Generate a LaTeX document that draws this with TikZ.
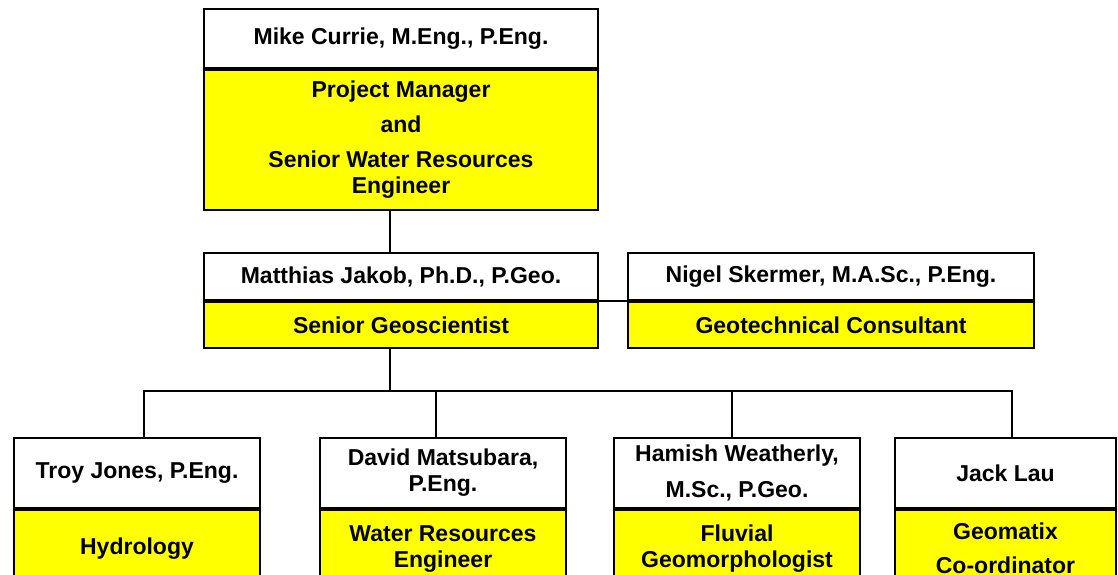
\documentclass[tikz,border=0pt]{standalone}
\usepackage{fontspec}
\setmainfont{Liberation Sans}
\usetikzlibrary{calc}
\definecolor{roleyellow}{RGB}{255,255,0}
\begin{document}
\begin{tikzpicture}[x=1pt,y=-1pt,
  namebox/.style={draw=black, line width=2pt, fill=white, align=center, inner sep=0pt,
    anchor=north west, font=\bfseries\fontsize{23}{26}\selectfont},
  rolebox/.style={namebox, fill=roleyellow},
  link/.style={line width=1.4pt, draw=black}]
\useasboundingbox (0,0) rectangle (1118,574);
\clip (0,0) rectangle (1118,574);
\fill[white] (0,0) rectangle (1118,574);
% top
\node[namebox, minimum width=394pt, minimum height=59pt] (pmN) at (203,8) {Mike Currie, M.Eng., P.Eng.};
\node[rolebox, minimum width=394pt, minimum height=140pt] (pmR) at (pmN.south west)
  {Project Manager\\[9pt]and\\[9pt]Senior Water Resources\\Engineer};
% middle
\node[namebox, minimum width=394pt, minimum height=47pt] (gsN) at (203,252) {Matthias Jakob, Ph.D., P.Geo.};
\node[rolebox, minimum width=394pt, minimum height=46pt] (gsR) at (gsN.south west) {Senior Geoscientist};
\node[namebox, minimum width=406pt, minimum height=47pt] (gcN) at (627,252) {Nigel Skermer, M.A.Sc., P.Eng.};
\node[rolebox, minimum width=406pt, minimum height=46pt] (gcR) at (gcN.south west) {Geotechnical Consultant};
% bottom
\node[namebox, minimum width=246pt, minimum height=70pt] (hyN) at (13,437) {Troy Jones, P.Eng.};
\node[rolebox, minimum width=246pt, minimum height=78pt] (hyR) at (hyN.south west) {Hydrology};
\node[namebox, minimum width=246pt, minimum height=70pt] (wrN) at (319,437) {David Matsubara,\\P.Eng.};
\node[rolebox, minimum width=246pt, minimum height=78pt] (wrR) at (wrN.south west) {Water Resources\\Engineer};
\node[namebox, minimum width=246pt, minimum height=70pt] (fgN) at (613,437) {Hamish Weatherly,\\[10pt]M.Sc., P.Geo.};
\node[rolebox, minimum width=246pt, minimum height=78pt] (fgR) at (fgN.south west) {Fluvial\\Geomorphologist};
\node[namebox, minimum width=221pt, minimum height=70pt] (glN) at (894,437) {Jack Lau};
\node[rolebox, minimum width=221pt, minimum height=76pt] (glR) at (glN.south west) {Geomatix\\[8pt]Co-ordinator};
% connectors
\coordinate (bus) at (0,391);
\coordinate (pmB) at ([xshift=-11pt]pmR.south);
\coordinate (gsT) at ([xshift=-11pt]gsN.north);
\coordinate (gsB) at ([xshift=-11pt]gsR.south);
\coordinate (t1) at ([xshift=7pt]hyN.north);
\coordinate (t2) at ([xshift=-7pt]wrN.north);
\coordinate (t3) at ([xshift=-5pt]fgN.north);
\coordinate (t4) at ([xshift=6.5pt]glN.north);
\draw[link] (pmB) -- (gsT);
\draw[link] (gsR.north east) -- (gcR.north west);
\draw[link] (gsB) -- (gsB |- bus);
\draw[link] (t1) -- (t1 |- bus) -- (t4 |- bus) -- (t4);
\draw[link] (t2) -- (t2 |- bus);
\draw[link] (t3) -- (t3 |- bus);
\end{tikzpicture}
\end{document}
